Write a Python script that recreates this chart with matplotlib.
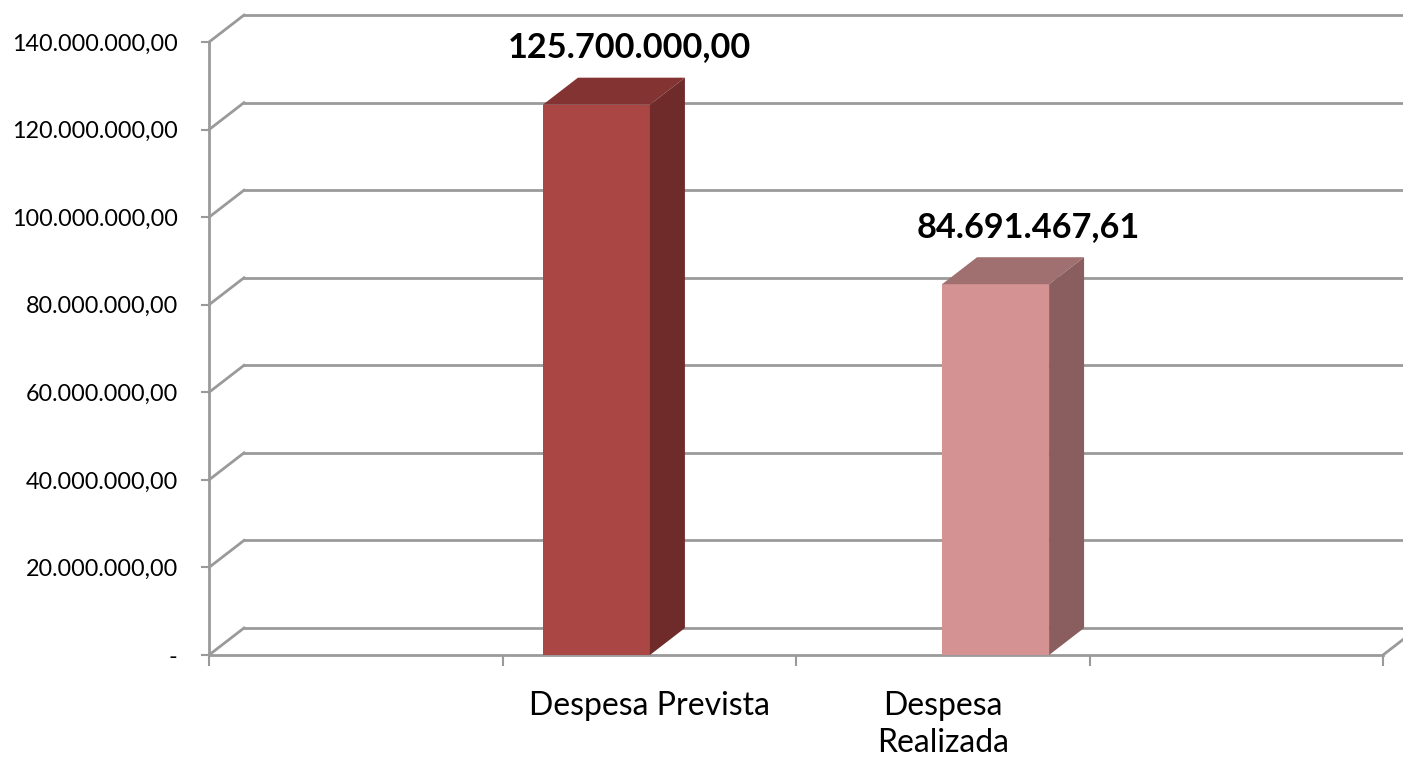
import matplotlib
matplotlib.use("Agg")
import matplotlib.pyplot as plt
from matplotlib.patches import Polygon

# data
categories = ["", "Despesa Prevista", "Despesa\nRealizada", ""]
values = [125700000.00, 84691467.61]
bar_pos = [1.32, 2.68]
y_ticks = [0, 20e6, 40e6, 60e6, 80e6, 100e6, 120e6, 140e6]

front_cols = ["#AA4643", "#D49392"]
top_cols = ["#833432", "#A07070"]
side_cols = ["#6F2B2A", "#8A5E5E"]


def fmt_br(v):
    if v == 0:
        return "-"
    s = f"{v:,.2f}"
    return s.replace(",", "X").replace(".", ",").replace("X", ".")


plt.rcParams["font.family"] = ["Lato", "DejaVu Sans"]

fig = plt.figure(figsize=(14.03, 7.62), dpi=100)
W, H = 1403, 762
# axes box in pixels: x 200..1403, y 10..662
ax = fig.add_axes([200 / W, (H - 662) / H, (1403 - 200) / W, (662 - 10) / H])

px_x = 293.5          # pixels per category
px_y = 4.378e-6       # pixels per unit value
x0_px, y0_px = 209, 655
ax.set_xlim(-(x0_px - 200) / px_x, (1403 - x0_px) / px_x)
ax.set_ylim(-(662 - y0_px) / px_y, (y0_px - 10) / px_y)

dx = 35 / px_x
dy = 27 / px_y
grid_col = "#9a9a9a"
xmax = len(categories)

# walls: diagonals on left wall and back wall gridlines
for v in y_ticks:
    ax.plot([0, dx], [v, v + dy], color=grid_col, lw=2, zorder=1)
    ax.plot([dx, xmax + dx], [v + dy, v + dy], color=grid_col, lw=2, zorder=1)
ax.plot([xmax, xmax + dx], [0, dy], color=grid_col, lw=2, zorder=1)

# bars
w = 107 / px_x
for xc, v, fc, tc, sc in zip(bar_pos, values, front_cols, top_cols, side_cols):
    xl = xc - w / 2
    ax.add_patch(Polygon([(xl, 0), (xl + w, 0), (xl + w, v), (xl, v)],
                         closed=True, fc=fc, ec="none", zorder=3))
    ax.add_patch(Polygon([(xl, v), (xl + w, v), (xl + w + dx, v + dy), (xl + dx, v + dy)],
                         closed=True, fc=tc, ec="none", zorder=3))
    ax.add_patch(Polygon([(xl + w, 0), (xl + w + dx, dy), (xl + w + dx, v + dy), (xl + w, v)],
                         closed=True, fc=sc, ec="none", zorder=3))
    ax.annotate(fmt_br(v), (xc + dx / 2, v + dy), xytext=(11, 22),
                textcoords="offset points", ha="center", va="center",
                fontsize=24.7, fontweight="bold", color="black")

# axes styling
for s in ["top", "right"]:
    ax.spines[s].set_visible(False)
ax.spines["left"].set_bounds(0, y_ticks[-1])
ax.spines["left"].set_position(("data", 0))
ax.spines["bottom"].set_bounds(0, xmax)
ax.spines["bottom"].set_position(("data", 0))
for s in ["left", "bottom"]:
    ax.spines[s].set_color(grid_col)
    ax.spines[s].set_linewidth(2)
    ax.spines[s].set_zorder(2)

ax.set_yticks(y_ticks)
ax.set_yticklabels([fmt_br(v) for v in y_ticks])
ax.tick_params(axis="y", length=6, width=1.5, color=grid_col, labelsize=16.8, pad=16.5)

ax.set_xticks(range(xmax + 1))
ax.set_xticklabels([""] * (xmax + 1))
ax.tick_params(axis="x", which="major", length=8, width=1.5, color=grid_col)
ax.set_xticks([i + 0.5 for i in range(xmax)], minor=True)
ax.set_xticklabels(categories, minor=True, fontsize=23, linespacing=1.3)
ax.tick_params(axis="x", which="minor", length=0, pad=26)

fig.savefig("out.png", dpi=100)
